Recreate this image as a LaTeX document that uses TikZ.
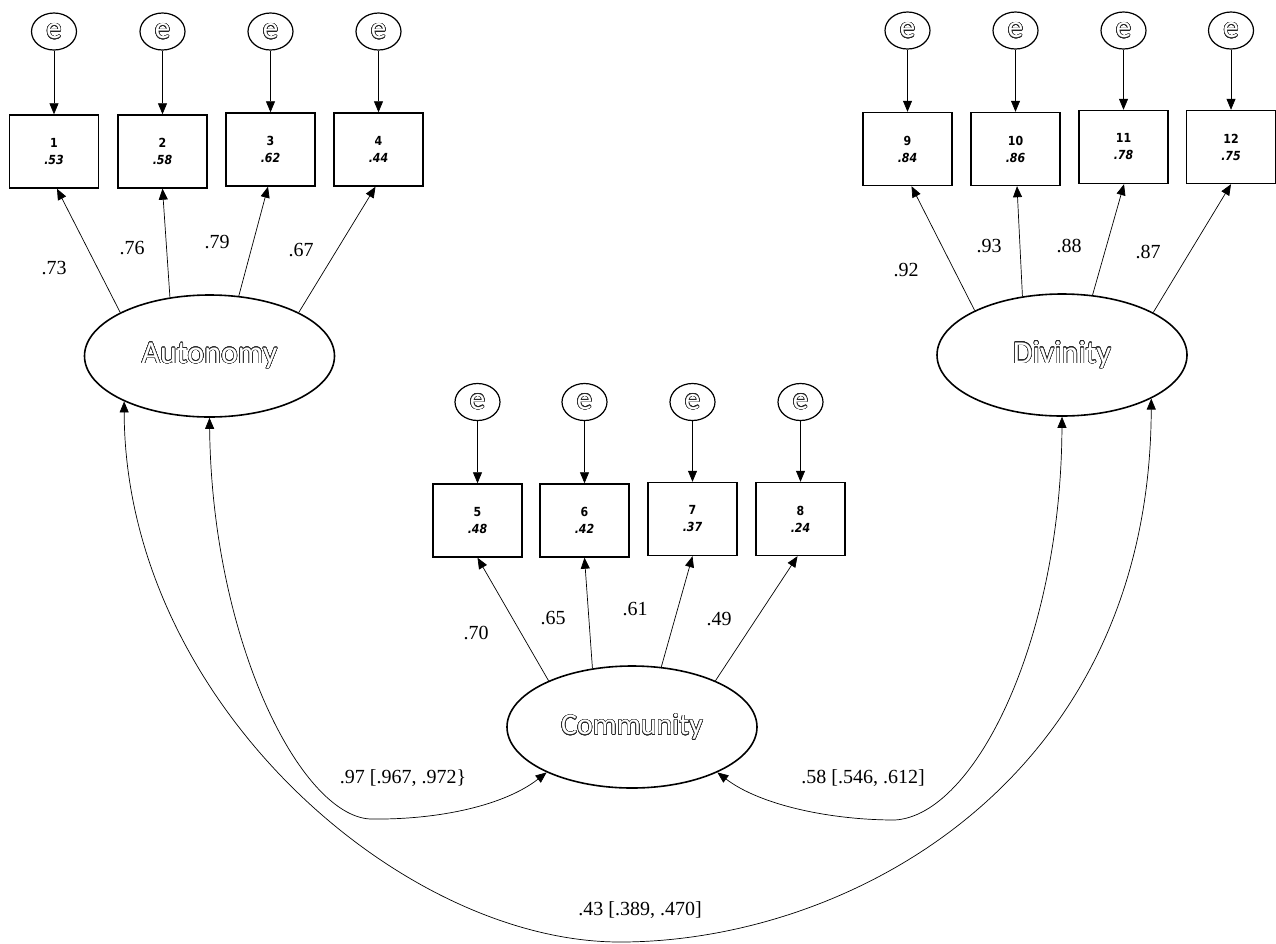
\documentclass[tikz,border=0pt]{standalone}
\usepackage{fontspec}
\setmainfont{Liberation Serif}
\newfontfamily\latfont{Carlito}
\newfontfamily\boxfont[FakeStretch=0.88]{DejaVu Sans}
\usepackage{contour}
\contourlength{0.55pt}
\contournumber{24}
\usetikzlibrary{arrows.meta,shapes.geometric}

% hollow (outlined) lettering for latent variables and error terms
\newcommand{\hollow}[1]{\contour{black!85}{\textcolor{white}{#1}}}
% item number over its squared multiple correlation
\newcommand{\obsitem}[2]{\textbf{#1}\\[-1pt]\textbf{\textit{#2}}}

\tikzset{
  err/.style={ellipse, draw, line width=1.2pt, minimum width=45pt, minimum height=37pt,
    inner sep=0pt, font=\latfont\fontsize{31}{31}\selectfont},
  obs/.style={rectangle, draw, line width=1.4pt, minimum width=89pt, minimum height=73pt,
    inner sep=0pt, align=center, font=\boxfont\fontsize{12.5}{18}\selectfont},
  lat/.style={ellipse, draw, line width=1.6pt, minimum width=250pt, minimum height=122pt,
    inner sep=0pt, font=\latfont\fontsize{32}{32}\selectfont},
  load/.style={line width=0.7pt, -{Triangle[length=11pt,width=9pt]}},
  cov/.style={line width=0.7pt, {Triangle[length=11pt,width=9pt]}-{Triangle[length=11pt,width=9pt]}},
  coef/.style={font=\fontsize{20}{20}\selectfont, inner sep=0pt}
}

\begin{document}
\begin{tikzpicture}[x=1pt, y=-1pt]
\useasboundingbox (0,0) rectangle (1276,943);

% ---------- Autonomy block ----------
\node[obs] (b1) at (54,151.5)    {\obsitem{1}{.53}};
\node[obs] (b2) at (162.5,151.5) {\obsitem{2}{.58}};
\node[obs] (b3) at (270.5,149.5) {\obsitem{3}{.62}};
\node[obs] (b4) at (378.5,149.5) {\obsitem{4}{.44}};
\node[err] (e1) at (54,31.5)    {\hollow{e}};
\node[err] (e2) at (162.5,31.5) {\hollow{e}};
\node[err] (e3) at (270.5,31.5) {\hollow{e}};
\node[err] (e4) at (378.5,31.5) {\hollow{e}};
\node[lat] (aut) at (209.5,356) {\hollow{Autonomy}};

% ---------- Community block ----------
\node[obs] (b5) at (477.5,520.5) {\obsitem{5}{.48}};
\node[obs] (b6) at (584.5,520.5) {\obsitem{6}{.42}};
\node[obs] (b7) at (692.5,519)   {\obsitem{7}{.37}};
\node[obs] (b8) at (800.5,519)   {\obsitem{8}{.24}};
\node[err] (e5) at (477.5,402) {\hollow{e}};
\node[err] (e6) at (584.5,402) {\hollow{e}};
\node[err] (e7) at (692.5,402) {\hollow{e}};
\node[err] (e8) at (800.5,402) {\hollow{e}};
\node[lat, font=\latfont\fontsize{30}{30}\selectfont] (com) at (632,727) {\hollow{Community}};

% ---------- Divinity block ----------
\node[obs] (b9)  at (907.5,149)  {\obsitem{9}{.84}};
\node[obs] (b10) at (1015.5,149) {\obsitem{10}{.86}};
\node[obs] (b11) at (1123.5,147) {\obsitem{11}{.78}};
\node[obs] (b12) at (1231,147)   {\obsitem{12}{.75}};
\node[err] (e9)  at (907.5,30.5)  {\hollow{e}};
\node[err] (e10) at (1015.5,30.5) {\hollow{e}};
\node[err] (e11) at (1123.5,30.5) {\hollow{e}};
\node[err] (e12) at (1231,30.5)   {\hollow{e}};
\node[lat] (div) at (1062,355) {\hollow{Divinity}};

% error terms
\foreach \i in {1,...,12} \draw[load] (e\i) -- (b\i);

% factor loadings
\draw[load] (aut.154) -- ([xshift=3pt]b1.south);
\draw[load] (aut.124) -- (b2.south);
\draw[load] (aut.64)  -- ([xshift=-2.5pt]b3.south);
\draw[load] (aut.26)  -- ([xshift=-3pt]b4.south);

\draw[load] (com.151) -- (b5.south);
\draw[load] (com.124) -- (b6.south);
\draw[load] (com.64)  -- (b7.south);
\draw[load] (com.29)  -- ([xshift=-3pt]b8.south);

\draw[load] (div.153) -- ([xshift=4pt]b9.south);
\draw[load] (div.124) -- ([xshift=1.5pt]b10.south);
\draw[load] (div.63)  -- ([xshift=0.5pt]b11.south);
\draw[load] (div.25)  -- (b12.south);

\node[coef] (l1)  at (54,268)  {.73};
\node[coef] (l2)  at (132,248) {.76};
\node[coef] (l3)  at (217,242) {.79};
\node[coef] (l4)  at (301,250) {.67};
\node[coef] (l5)  at (476,633) {.70};
\node[coef] (l6)  at (553,618) {.65};
\node[coef] (l7)  at (635,609) {.61};
\node[coef] (l8)  at (719,619) {.49};
\node[coef] (l9)  at (906,270) {.92};
\node[coef] (l10) at (989,246) {.93};
\node[coef] (l11) at (1069,246) {.88};
\node[coef] (l12) at (1148,252) {.87};

% factor correlations
\draw[cov] (aut.south) .. controls (212,640) and (300,815) .. (370,819)
  .. controls (440,820) and (505,805) .. (com.208);
\draw[cov] (div.south) .. controls (1061,640) and (975,815) .. (895,820)
  .. controls (830,820) and (760,805) .. (com.-28);
\draw[cov] (aut.208) .. controls (125,700) and (400,942) .. (620,942)
  .. controls (850,942) and (1150,780) .. (div.-26);

\node[coef] (c1) at (403,778) {.97 [.967, .972\}};
\node[coef] (c2) at (863,778) {.58 [.546, .612]};
\node[coef] (c3) at (640,910) {.43 [.389, .470]};
\end{tikzpicture}
\end{document}
